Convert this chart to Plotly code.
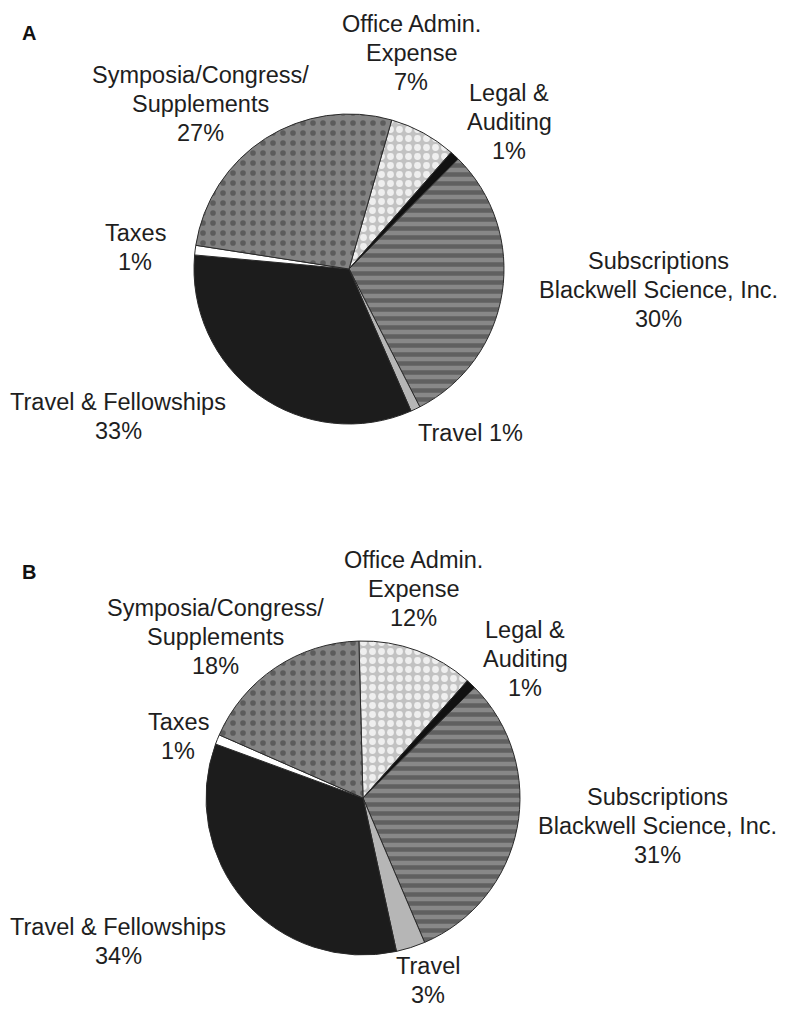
import plotly.graph_objects as go

# ---- data ----
categories = ["Office Admin. Expense", "Legal & Auditing", "Subscriptions Blackwell Science, Inc.",
              "Travel", "Travel & Fellowships", "Taxes", "Symposia/Congress/Supplements"]
values_A = [7, 1, 30, 1, 33, 1, 27]
values_B = [12, 1, 31, 3, 34, 1, 18]
panel_letters = ["A", "B"]

# label lines per category (text only) for each panel
label_lines_A = [["Office Admin.", "Expense"], ["Legal &", "Auditing"],
                 ["Subscriptions", "Blackwell Science, Inc."], ["Travel"],
                 ["Travel & Fellowships"], ["Taxes"], ["Symposia/Congress/", "Supplements"]]
label_lines_B = label_lines_A
# whether percent goes on same line as the last text line
inline_pct_A = [False, False, False, True, False, False, False]
inline_pct_B = [False] * 7

# ---- style ----
OFF = 8                      # page body margin of the browser
W, H = 788 - OFF, 1017 - OFF
colors = ["#c2c2c2", "#111111", "#888888", "#b6b6b6", "#1c1c1c", "#ffffff", "#838383"]
pat_shape = [".", "", "-", "", "", "", "."]
pat_fg = ["#efefef", "#111111", "#606060", "#b6b6b6", "#1c1c1c", "#ffffff", "#5c5c5c"]
pat_size = [9, 8, 9, 8, 8, 8, 10]
pat_sol = [0.45, 0.3, 0.5, 0.3, 0.3, 0.3, 0.25]

# pie geometry in reference pixels: (cx, cy, r), rotation
geoms = [(349, 269, 155, 16), (363, 798, 157, -1.5)]
# label anchor (center x, first-line y) in reference pixels
anchors_A = [(411, 24), (509, 93), (658, 261), (470, 433), (118, 402), (135, 233), (200, 75)]
anchors_B = [(413, 560), (525, 630), (657, 797), (428, 966), (118, 927), (178, 722), (215, 608)]
letter_pos = [(20, 33), (20, 572)]
line_gap = 29
font_family = "Liberation Sans, Arial, sans-serif"
font_size = 23.5


def px(x):
    return (x - OFF) / W


def py(y):
    return 1 - (y - OFF) / H


fig = go.Figure()
annotations = []
for k, (vals, lines, inl, anchors) in enumerate([
        (values_A, label_lines_A, inline_pct_A, anchors_A),
        (values_B, label_lines_B, inline_pct_B, anchors_B)]):
    cx, cy, r, rot = geoms[k]
    fig.add_trace(go.Pie(
        labels=categories, values=vals, sort=False, direction="clockwise",
        rotation=rot, textinfo="none", hoverinfo="label+percent",
        showlegend=False,
        marker=dict(colors=colors, line=dict(color="#2a2a2a", width=1),
                    pattern=dict(shape=pat_shape, fgcolor=pat_fg, bgcolor=colors,
                                 size=pat_size, solidity=pat_sol)),
        domain=dict(x=[px(cx - r), px(cx + r)], y=[py(cy + r), py(cy - r)]),
    ))
    for i, cat in enumerate(categories):
        txt = list(lines[i])
        pct = f"{vals[i]}%"
        if inl[i]:
            txt[-1] = txt[-1] + " " + pct
        else:
            txt.append(pct)
        ax, ay = anchors[i]
        for j, t in enumerate(txt):
            annotations.append(dict(
                x=px(ax), y=py(ay + j * line_gap), xref="paper", yref="paper",
                text=t, showarrow=False, xanchor="center", yanchor="middle",
                font=dict(family=font_family, size=font_size, color="#1e1e1e")))
    lx, ly = letter_pos[k]
    annotations.append(dict(x=px(lx), y=py(ly), xref="paper", yref="paper",
                            text=f"<b>{panel_letters[k]}</b>", showarrow=False,
                            xanchor="left", yanchor="middle",
                            font=dict(family=font_family, size=20, color="#111111")))

fig.update_layout(width=W, height=H, margin=dict(l=0, r=0, t=0, b=0),
                  paper_bgcolor="white", plot_bgcolor="white", annotations=annotations)
fig.write_html("out.html")
